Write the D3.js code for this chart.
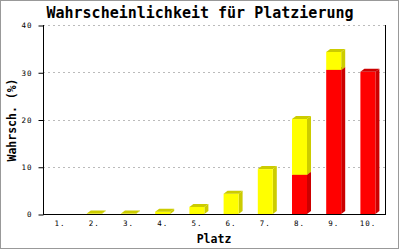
<!DOCTYPE html>
<html><head><meta charset="utf-8">
<script src="https://cdn.jsdelivr.net/npm/d3@7"></script>
<style>html,body{margin:0;padding:0;background:#fff;}svg{display:block;}</style>
</head><body>
<script>
const categories = ["1.","2.","3.","4.","5.","6.","7.","8.","9.","10."];
const redValues = [0,0,0,0,0,0,0,8.3,30.5,30.1];
const yellowValues = [0,0.1,0.1,0.5,1.5,4.3,9.5,11.8,3.8,0];
const yTicks = [0,10,20,30,40];
const title = "Wahrscheinlichkeit für Platzierung";
const yTitle = "Wahrsch. (%)";
const xTitle = "Platz";

(function(){
const W=400,H=250;
const pLeft=43,pRight=385,pTop=25,pBottom=214;
const svg=d3.select("body").append("svg").attr("width",W).attr("height",H);
svg.append("rect").attr("x",0).attr("y",0).attr("width",W).attr("height",H).attr("fill","#fff");
svg.append("rect").attr("x",0.5).attr("y",0.5).attr("width",398).attr("height",248)
  .attr("fill","none").attr("stroke","#999").attr("stroke-width",1);

const x=d3.scaleBand().domain(categories).range([pLeft,pRight]);
const y=d3.scaleLinear().domain([0,40]).range([pBottom,pTop]);
const mono="'DejaVu Sans Mono', monospace";

// grid
svg.append("g").selectAll("line").data(yTicks.filter(d=>d>0)).join("line")
  .attr("x1",pLeft).attr("x2",pRight).attr("y1",d=>Math.round(y(d))+0.5).attr("y2",d=>Math.round(y(d))+0.5)
  .attr("stroke","#bbb").attr("stroke-dasharray","2,3");

// bars
const dx=4, dy=3, bw=15;
function box(g,cx,v0,v1,front,dark){
  if(v1<=v0) return;
  const x0=cx-bw/2, x1=cx+bw/2;
  const yb=y(v0), yt=y(v1);
  g.append("path").attr("d",`M${x1},${yb}L${x1+dx},${yb-dy}L${x1+dx},${yt-dy}L${x1},${yt}Z`).attr("fill",dark);
  g.append("rect").attr("x",x0).attr("y",yt).attr("width",bw).attr("height",Math.max(0,yb-yt)).attr("fill",front);
  g.append("path").attr("d",`M${x0},${yt}L${x0+dx},${yt-dy}L${x1+dx},${yt-dy}L${x1},${yt}Z`).attr("fill",dark);
}
const gb=svg.append("g");
categories.forEach((c,i)=>{
  const cx=x(c)+x.bandwidth()/2;
  box(gb,cx,0,redValues[i],"#ff0000","#cc0000");
  box(gb,cx,redValues[i],redValues[i]+yellowValues[i],"#ffff00","#cccc00");
});

// axes lines
svg.append("line").attr("x1",pLeft+0.5).attr("x2",pLeft+0.5).attr("y1",pTop).attr("y2",pBottom+0.5).attr("stroke","#000");
svg.append("line").attr("x1",pRight+0.5).attr("x2",pRight+0.5).attr("y1",pTop).attr("y2",pBottom+0.5).attr("stroke","#000");
svg.append("line").attr("x1",pLeft).attr("x2",pRight+1).attr("y1",pBottom+0.5).attr("y2",pBottom+0.5).attr("stroke","#000");

const yAxis=d3.axisLeft(y).tickValues(yTicks).tickSize(5).tickPadding(6);
const ya=svg.append("g").attr("transform",`translate(${pLeft+0.5},0.5)`).call(yAxis);
ya.select(".domain").remove();
ya.selectAll("text").attr("font-family",mono).attr("font-size",7.5).attr("letter-spacing",1).attr("fill","#000");

const xAxis=d3.axisBottom(x).tickSize(0).tickPadding(7);
const xa=svg.append("g").attr("transform",`translate(0,${pBottom})`).call(xAxis);
xa.select(".domain").remove();
xa.selectAll("text").attr("font-family",mono).attr("font-size",7.5).attr("letter-spacing",1).attr("fill","#000");

svg.append("text").attr("x",200).attr("y",18).attr("text-anchor","middle")
  .attr("font-family",mono).attr("font-weight","bold").attr("font-size",15).text(title);
svg.append("text").attr("transform",`translate(15.5,120) rotate(-90)`).attr("text-anchor","middle")
  .attr("font-family",mono).attr("font-weight","bold").attr("font-size",11.5).text(yTitle);
svg.append("text").attr("x",214).attr("y",243).attr("text-anchor","middle")
  .attr("font-family",mono).attr("font-weight","bold").attr("font-size",11.5).text(xTitle);
})();
</script>
</body></html>
